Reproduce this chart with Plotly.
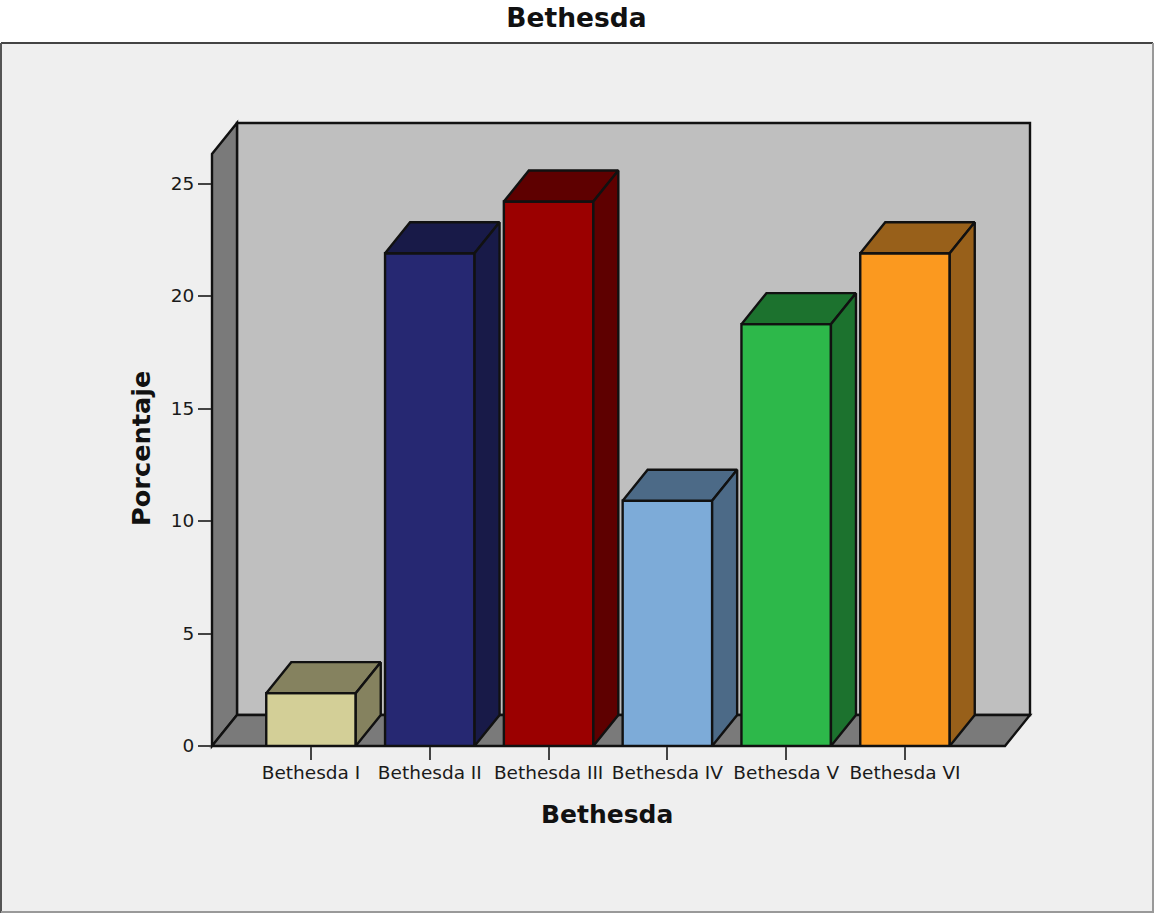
import plotly.graph_objects as go

# Percentage of cases per Bethesda category
categories = ["Bethesda I", "Bethesda II", "Bethesda III", "Bethesda IV", "Bethesda V", "Bethesda VI"]
percentages = [2.35, 21.9, 24.2, 10.9, 18.75, 21.9]
front_colors = ["#D3CF97", "#262872", "#9B0000", "#7DABD8", "#2DB84A", "#FB991F"]
shade_colors = ["#85825F", "#181A48", "#5E0000", "#4C6A87", "#1C722E", "#98601A"]
y_ticks = [0, 5, 10, 15, 20, 25]

WIDTH, HEIGHT = 1154, 913
LEFT, RIGHT, TOP, BOTTOM = 212, 1030, 123, 746
SLOT = 118.8          # pixels between category centres
UNIT = 22.5           # pixels per percentage point
X_RANGE = [(LEFT - 311) / SLOT, (RIGHT - 311) / SLOT]
Y_RANGE = [0, (BOTTOM - TOP) / UNIT]

BAR_W = 89.5 / SLOT
DX = 25 / SLOT        # horizontal depth of the pseudo-3D extrusion
DY = 31 / UNIT        # vertical depth of the pseudo-3D extrusion
EDGE = "#111111"
EDGE_W = 2.4
WALL_TOP = Y_RANGE[1] - DY


def to_paper(x, y):
    return (x - X_RANGE[0]) / (X_RANGE[1] - X_RANGE[0]), y / Y_RANGE[1]


def px_to_paper(px, py):
    return (px - LEFT) / (RIGHT - LEFT), (BOTTOM - py) / (BOTTOM - TOP)


def polygon(points, fill):
    coords = [to_paper(*p) for p in points]
    path = "M" + "L".join(f"{px:.5f},{py:.5f}" for px, py in coords) + "Z"
    return dict(type="path", xref="paper", yref="paper", path=path, fillcolor=fill,
                line=dict(color=EDGE, width=EDGE_W), layer="below")


def border(start, end, color):
    (ax, ay), (bx, by) = px_to_paper(*start), px_to_paper(*end)
    return dict(type="line", xref="paper", yref="paper", layer="below",
                x0=ax, y0=ay, x1=bx, y1=by, line=dict(color=color, width=2))


x0 = X_RANGE[0]
x1 = X_RANGE[1] - DX
(panel_x0, panel_y0), (panel_x1, panel_y1) = px_to_paper(1, HEIGHT - 1), px_to_paper(WIDTH - 1, 43)
panel = dict(type="rect", xref="paper", yref="paper", layer="below",
             x0=panel_x0, x1=panel_x1, y0=panel_y0, y1=panel_y1,
             fillcolor="#EFEFEF", line=dict(width=0))
shapes = [
    panel,
    border((1, 43), (WIDTH - 1, 43), "#444444"),
    border((1, 43), (1, HEIGHT), "#555555"),
    border((WIDTH - 1, 43), (WIDTH - 1, HEIGHT), "#999999"),
    border((1, HEIGHT - 1), (WIDTH - 1, HEIGHT - 1), "#999999"),
    polygon([(x0 + DX, DY), (x1 + DX, DY), (x1 + DX, WALL_TOP + DY), (x0 + DX, WALL_TOP + DY)], "#BFBFBF"),
    polygon([(x0, 0), (x0 + DX, DY), (x0 + DX, WALL_TOP + DY), (x0, WALL_TOP)], "#7A7A7A"),
    polygon([(x0, 0), (x1, 0), (x1 + DX, DY), (x0 + DX, DY)], "#7A7A7A"),
]

fig = go.Figure()
positions = list(range(len(categories)))

fig.add_trace(go.Bar(
    x=positions, y=percentages, width=BAR_W, cliponaxis=False, showlegend=False,
    marker=dict(color=front_colors, line=dict(color=EDGE, width=EDGE_W)),
))

# Top and right faces of each bar, offset from the front face by the depth
for pos, value, shade in zip(positions, percentages, shade_colors):
    left = pos - BAR_W / 2
    right = pos + BAR_W / 2
    fig.add_trace(go.Scatter(
        x=[left, right, right + DX, left + DX, left],
        y=[value, value, value + DY, value + DY, value],
        mode="lines", fill="toself", fillcolor=shade, cliponaxis=False,
        line=dict(color=EDGE, width=EDGE_W), showlegend=False, hoverinfo="skip",
    ))
    fig.add_trace(go.Scatter(
        x=[right, right + DX, right + DX, right, right],
        y=[0, DY, value + DY, value, 0],
        mode="lines", fill="toself", fillcolor=shade, cliponaxis=False,
        line=dict(color=EDGE, width=EDGE_W), showlegend=False, hoverinfo="skip",
    ))

xlabel_x, xlabel_y = px_to_paper(607, 814)
ylabel_x, ylabel_y = px_to_paper(141, 449)

fig.update_layout(
    width=WIDTH, height=HEIGHT, autosize=False,
    margin=dict(l=LEFT, r=WIDTH - RIGHT, t=TOP, b=HEIGHT - BOTTOM),
    paper_bgcolor="white", plot_bgcolor="rgba(0,0,0,0)",
    font=dict(family="DejaVu Sans", color="#1A1A1A"),
    title=dict(text="<b>Bethesda</b>", x=576.5 / WIDTH, xanchor="center", y=1 - 18 / HEIGHT,
               yanchor="middle", font=dict(size=26.5, color="#111111")),
    shapes=shapes,
    annotations=[
        dict(text="<b>Bethesda</b>", xref="paper", yref="paper", x=xlabel_x, y=xlabel_y,
             xanchor="center", yanchor="middle", showarrow=False,
             font=dict(size=25, color="#111111")),
        dict(text="<b>Porcentaje</b>", xref="paper", yref="paper", x=ylabel_x, y=ylabel_y,
             xanchor="center", yanchor="middle", showarrow=False, textangle=-90,
             font=dict(size=25.6, color="#111111")),
    ],
    xaxis=dict(
        range=X_RANGE, tickmode="array", tickvals=positions, ticktext=categories,
        ticks="outside", ticklen=13, tickwidth=2, tickcolor="#444444",
        tickfont=dict(size=18.5), ticklabelstandoff=-3,
        showgrid=False, zeroline=False, showline=False,
    ),
    yaxis=dict(
        range=Y_RANGE, tickmode="array", tickvals=y_ticks,
        ticks="outside", ticklen=13, tickwidth=2, tickcolor="#444444",
        tickfont=dict(size=18.5), showgrid=False, zeroline=False, showline=False,
    ),
)

fig.write_html("out.html")
